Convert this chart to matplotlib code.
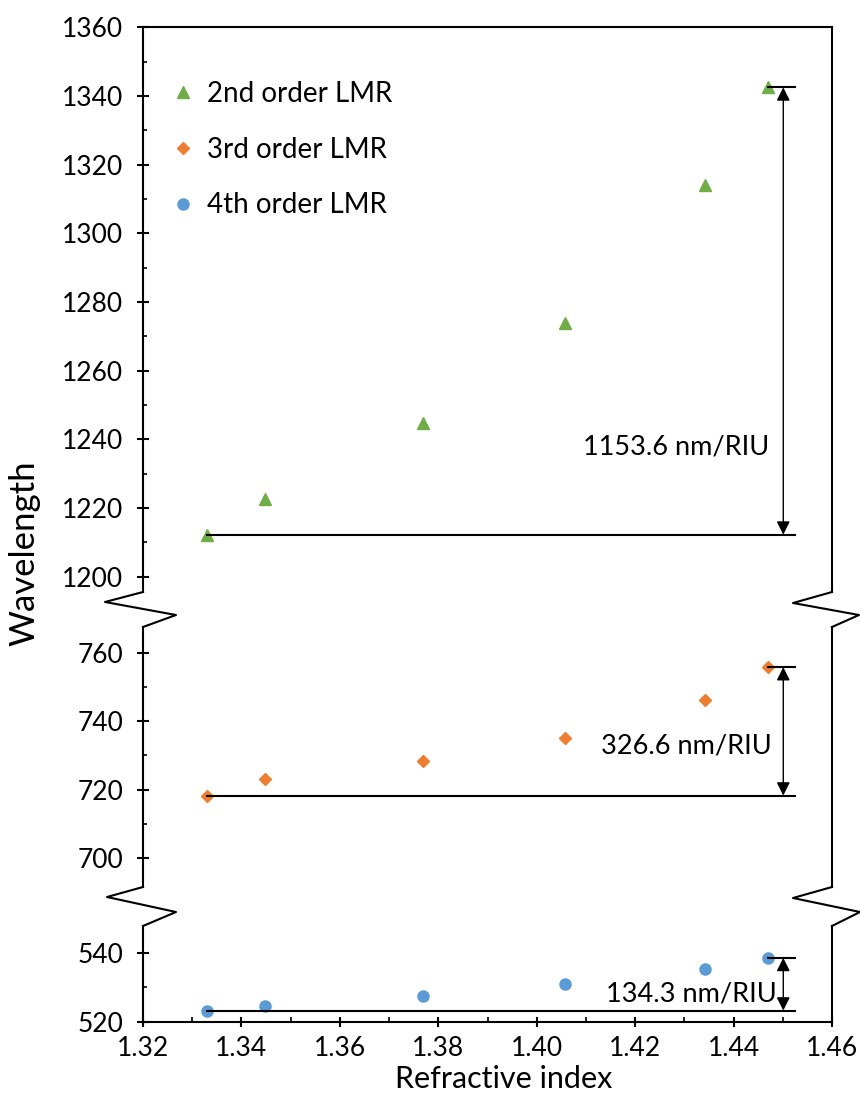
import matplotlib.pyplot as plt
from matplotlib.lines import Line2D
from matplotlib.ticker import MultipleLocator, FormatStrFormatter

plt.rcParams['font.family'] = ['Lato', 'DejaVu Sans']

# datos
ri = [1.3331, 1.3448, 1.3769, 1.4058, 1.4342, 1.4469]
lmr2 = [1212.2, 1222.5, 1244.6, 1274.0, 1314.1, 1342.5]
lmr3 = [718.3, 723.0, 728.3, 735.2, 746.3, 755.8]
lmr4 = [523.3, 524.7, 527.5, 531.0, 535.4, 538.5]
labels = ['2nd order LMR', '3rd order LMR', '4th order LMR']
sens = ['1153.6 nm/RIU', '326.6 nm/RIU', '134.3 nm/RIU']

W, H = 860, 1095
fig = plt.figure(figsize=(W / 100, H / 100), dpi=100)


def caja(top, bottom):
    # posicion del eje a partir de pixeles
    return [143 / W, 1 - bottom / H, 689 / W, (bottom - top) / H]


ax1 = fig.add_axes(caja(27.3, 592))
ax2 = fig.add_axes(caja(626.7, 887))
ax3 = fig.add_axes(caja(926, 1022))

ax1.set_ylim(1195.5, 1360)
ax2.set_ylim(691.6, 767.6)
ax3.set_ylim(520, 547.7)

for ax in (ax1, ax2, ax3):
    ax.set_xlim(1.32, 1.46)
    ax.yaxis.set_major_locator(MultipleLocator(20))
    ax.yaxis.set_minor_locator(MultipleLocator(10))
    ax.xaxis.set_major_locator(MultipleLocator(0.02))
    ax.xaxis.set_minor_locator(MultipleLocator(0.01))
    ax.xaxis.set_major_formatter(FormatStrFormatter('%.2f'))
    ax.tick_params(axis='y', which='major', direction='inout', length=8.5, width=1.5,
                   labelsize=19, pad=10)
    ax.tick_params(axis='y', which='minor', direction='in', length=3, width=1.2)
    ax.tick_params(axis='x', which='major', direction='inout', length=7.5, width=1.5,
                   labelsize=19, pad=6)
    ax.tick_params(axis='x', which='minor', direction='in', length=3.5, width=1.2)
    for s in ax.spines.values():
        s.set_linewidth(1.5)
    ax.patch.set_alpha(0)

ax1.spines['bottom'].set_visible(False)
ax2.spines['bottom'].set_visible(False)
ax2.spines['top'].set_visible(False)
ax3.spines['top'].set_visible(False)
for ax in (ax1, ax2):
    ax.tick_params(axis='x', which='both', bottom=False, labelbottom=False)

ax1.plot(ri, lmr2, '^', color='#70AD47', ms=9, label=labels[0])
ax2.plot(ri, lmr3, 'D', color='#ED7D31', ms=6, label=labels[1])
ax3.plot(ri, lmr4, 'o', color='#5B9BD5', ms=8, label=labels[2])

# lineas y flechas de sensibilidad
xa = 1.4501
xe = 1.4525
tx = [1.4472, 1.4478, 1.4488]
ty = [1237.8, 732.8, 528.2]
for ax, ys, txt, x_t, y_t in zip((ax1, ax2, ax3), (lmr2, lmr3, lmr4), sens, tx, ty):
    ax.plot([ri[0], xe], [ys[0], ys[0]], color='black', lw=1.5)
    ax.plot([ri[-1], xe], [ys[-1], ys[-1]], color='black', lw=1.5)
    ax.annotate('', xy=(xa, ys[-1]), xytext=(xa, ys[0]),
                arrowprops=dict(arrowstyle='<|-|>', color='black', lw=1,
                                mutation_scale=20, shrinkA=0, shrinkB=0))
    ax.text(x_t, y_t, txt, ha='right', va='center', fontsize=19.5)

# leyenda
h = [ax1.lines[0], ax2.lines[0], ax3.lines[0]]
fig.legend(h, labels, loc='upper left', bbox_to_anchor=(171 / W, 1 - 81 / H),
           frameon=False, fontsize=20, borderpad=0, borderaxespad=0,
           handlelength=0.85, handletextpad=0.45, labelspacing=1.07)

# marcas de corte en los ejes
zigs = [
    [(143, 592), (105, 602), (176, 615), (143, 627)],
    [(832, 592), (793, 603), (859, 615), (832, 627)],
    [(143, 887), (107, 897), (176, 912), (143, 926)],
    [(832, 887), (793, 898), (860, 912), (832, 926)],
]
for z in zigs:
    xs = [p[0] / W for p in z]
    ys = [1 - p[1] / H for p in z]
    fig.add_artist(Line2D(xs, ys, color='black', lw=1.5, transform=fig.transFigure))

fig.text(24 / W, 1 - 553 / H, 'Wavelength', rotation=90, ha='center', va='center',
         fontsize=25)
fig.text(504 / W, 1 - 1088 / H, 'Refractive index', ha='center', va='baseline',
         fontsize=22)

fig.savefig('out.png', dpi=100)
